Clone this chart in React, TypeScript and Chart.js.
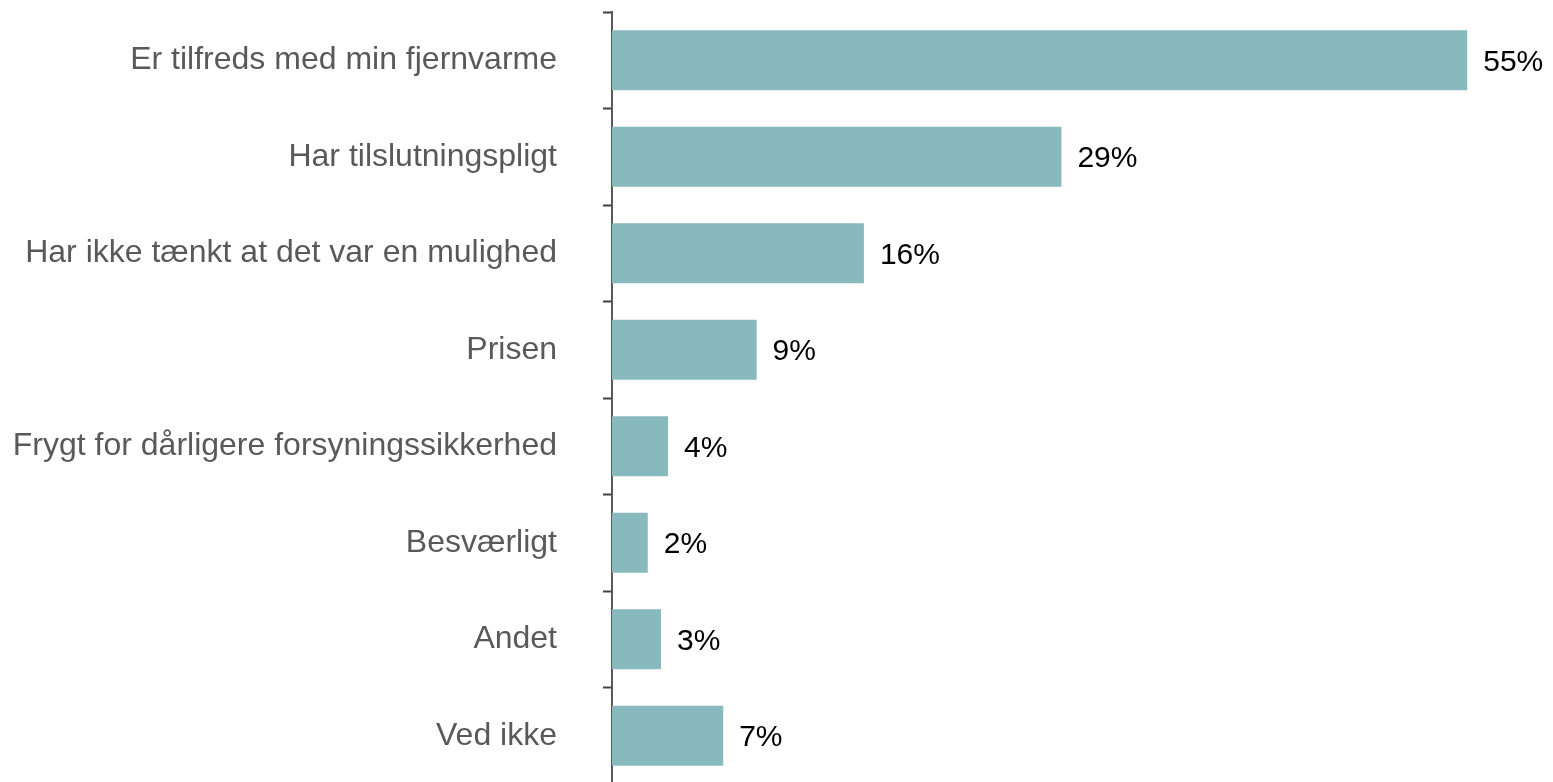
import React, { useEffect, useRef } from "react";
import { Chart, registerables } from "chart.js";

Chart.register(...registerables);

const categories = [
  "Er tilfreds med min fjernvarme",
  "Har tilslutningspligt",
  "Har ikke tænkt at det var en mulighed",
  "Prisen",
  "Frygt for dårligere forsyningssikkerhed",
  "Besværligt",
  "Andet",
  "Ved ikke",
];
const values = [55, 28.9, 16.2, 9.3, 3.6, 2.3, 3.15, 7.15];
const valueLabels = ["55%", "29%", "16%", "9%", "4%", "2%", "3%", "7%"];

const FONT = "'Liberation Sans', Arial, sans-serif";

const valueLabelPlugin = {
  id: "valueLabels",
  afterDatasetsDraw(chart: any) {
    const ctx = chart.ctx;
    const meta = chart.getDatasetMeta(0);
    ctx.save();
    ctx.font = `30px ${FONT}`;
    ctx.fillStyle = "#000000";
    ctx.textAlign = "left";
    ctx.textBaseline = "middle";
    meta.data.forEach((bar: any, i: number) => {
      ctx.fillText(valueLabels[i], bar.x + 16, bar.y + 2);
    });
    ctx.restore();
  },
};

export default function App() {
  const ref = useRef<HTMLCanvasElement>(null);
  useEffect(() => {
    if (!ref.current) return;
    const chart = new Chart(ref.current, {
      type: "bar",
      data: {
        labels: categories,
        datasets: [
          {
            data: values,
            backgroundColor: "#88B9BD",
            borderWidth: 0,
            categoryPercentage: 1,
            barPercentage: 0.622,
          },
        ],
      },
      options: {
        indexAxis: "y",
        animation: false,
        responsive: false,
        maintainAspectRatio: false,
        layout: { padding: { top: 4, right: 0, bottom: 0, left: 0 } },
        plugins: { legend: { display: false }, tooltip: { enabled: false } },
        scales: {
          x: { display: false, min: 0, max: 60 },
          y: {
            afterFit(scale: any) {
              scale.width = 604;
              scale.paddingTop = 0;
              scale.paddingBottom = 0;
            },
            border: { display: true, color: "#595959", width: 2 },
            grid: {
              display: true,
              drawOnChartArea: false,
              drawTicks: true,
              tickLength: 9,
              tickWidth: 2,
              tickColor: "#404040",
              offset: true,
            },
            ticks: {
              padding: 46,
              color: "#595959",
              font: { family: FONT, size: 32 },
            },
          },
        },
      },
      plugins: [valueLabelPlugin],
    });
    return () => chart.destroy();
  }, []);
  return <canvas ref={ref} width={1537} height={776} style={{ display: "block" }} />;
}
